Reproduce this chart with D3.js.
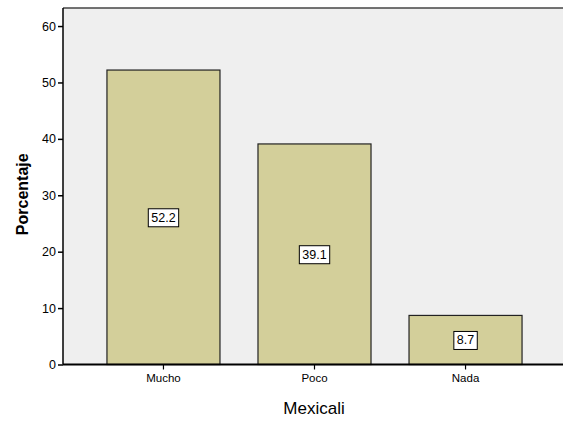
<!DOCTYPE html>
<html>
<head>
<meta charset="utf-8">
<script src="https://cdn.jsdelivr.net/npm/d3@7"></script>
<style>
  body { margin: 0; background: #fff; }
  svg { display: block; font-family: Arial, "Liberation Sans", sans-serif; }
</style>
</head>
<body>
<div id="chart"></div>
<script>
// data
var categories = ["Mucho", "Poco", "Nada"];
var percentages = [52.2, 39.1, 8.7];
var yTicks = [0, 10, 20, 30, 40, 50, 60];

var width = 563, height = 421;
var plotLeft = 63, plotTop = 8, plotRight = 566, plotBottom = 364.5;

var svg = d3.select("#chart").append("svg")
  .attr("width", width)
  .attr("height", height);

var x = d3.scaleBand()
  .domain(categories)
  .range([plotLeft, plotRight])
  .paddingInner(0.2517)
  .paddingOuter(0.291);

var y = d3.scaleLinear()
  .domain([0, 63.2])
  .range([plotBottom, plotTop]);

// plot background
svg.append("rect")
  .attr("x", plotLeft).attr("y", plotTop)
  .attr("width", plotRight - plotLeft).attr("height", plotBottom - plotTop)
  .attr("fill", "#efefef");

// top border
svg.append("line")
  .attr("x1", plotLeft).attr("x2", plotRight)
  .attr("y1", plotTop).attr("y2", plotTop)
  .attr("stroke", "#444").attr("stroke-width", 1.5);

// bars
svg.selectAll(".bar")
  .data(percentages)
  .enter()
  .append("rect")
  .attr("class", "bar")
  .attr("x", function (d, i) { return x(categories[i]); })
  .attr("y", function (d) { return y(d); })
  .attr("width", x.bandwidth())
  .attr("height", function (d) { return plotBottom - y(d); })
  .attr("fill", "#d3cf9a")
  .attr("stroke", "#222")
  .attr("stroke-width", 1.2);

// value labels
var labels = svg.selectAll(".lbl")
  .data(percentages)
  .enter()
  .append("g")
  .attr("class", "lbl")
  .attr("transform", function (d, i) {
    var cx = x(categories[i]) + x.bandwidth() / 2;
    var cy = (y(d) + plotBottom) / 2;
    return "translate(" + cx + "," + cy + ")";
  });

labels.append("text")
  .attr("text-anchor", "middle")
  .attr("dy", "0.36em")
  .style("font-size", "12.5px")
  .attr("fill", "#000")
  .text(function (d) { return d.toFixed(1); });

labels.each(function () {
  var g = d3.select(this);
  var bb = g.select("text").node().getBBox();
  g.insert("rect", "text")
    .attr("x", bb.x - 3)
    .attr("y", bb.y - 2)
    .attr("width", bb.width + 6)
    .attr("height", bb.height + 4)
    .attr("fill", "#fff")
    .attr("stroke", "#000")
    .attr("stroke-width", 1);
});

// y axis
var yAxis = svg.append("g")
  .attr("transform", "translate(" + plotLeft + ",0)")
  .call(d3.axisLeft(y).tickValues(yTicks).tickSize(5).tickPadding(2).tickFormat(d3.format("d")));
yAxis.select(".domain").attr("stroke", "#000").attr("stroke-width", 1.5)
  .attr("d", "M0," + plotTop + "V" + plotBottom);
yAxis.selectAll(".tick line").attr("stroke", "#000").attr("stroke-width", 1.5);
yAxis.selectAll(".tick text").style("font-size", "12.5px").attr("fill", "#000").style("font-family", "Arial, 'Liberation Sans', sans-serif");

// x axis
var xAxis = svg.append("g")
  .attr("transform", "translate(0," + plotBottom + ")")
  .call(d3.axisBottom(x).tickSize(5).tickPadding(4));
xAxis.select(".domain").attr("stroke", "#000").attr("stroke-width", 2)
  .attr("d", "M" + plotLeft + ",0H" + plotRight);
xAxis.selectAll(".tick line").attr("stroke", "#000").attr("stroke-width", 1.2);
xAxis.selectAll(".tick text").style("font-size", "11.5px").attr("fill", "#000").style("font-family", "Arial, 'Liberation Sans', sans-serif");

// axis titles
svg.append("text")
  .attr("transform", "translate(28," + ((plotTop + plotBottom) / 2 + 8) + ") rotate(-90)")
  .attr("text-anchor", "middle")
  .style("font-size", "16px")
  .style("font-weight", "bold")
  .text("Porcentaje");

svg.append("text")
  .attr("x", 314)
  .attr("y", 414)
  .attr("text-anchor", "middle")
  .style("font-size", "17px")
  .text("Mexicali");
</script>
</body>
</html>
